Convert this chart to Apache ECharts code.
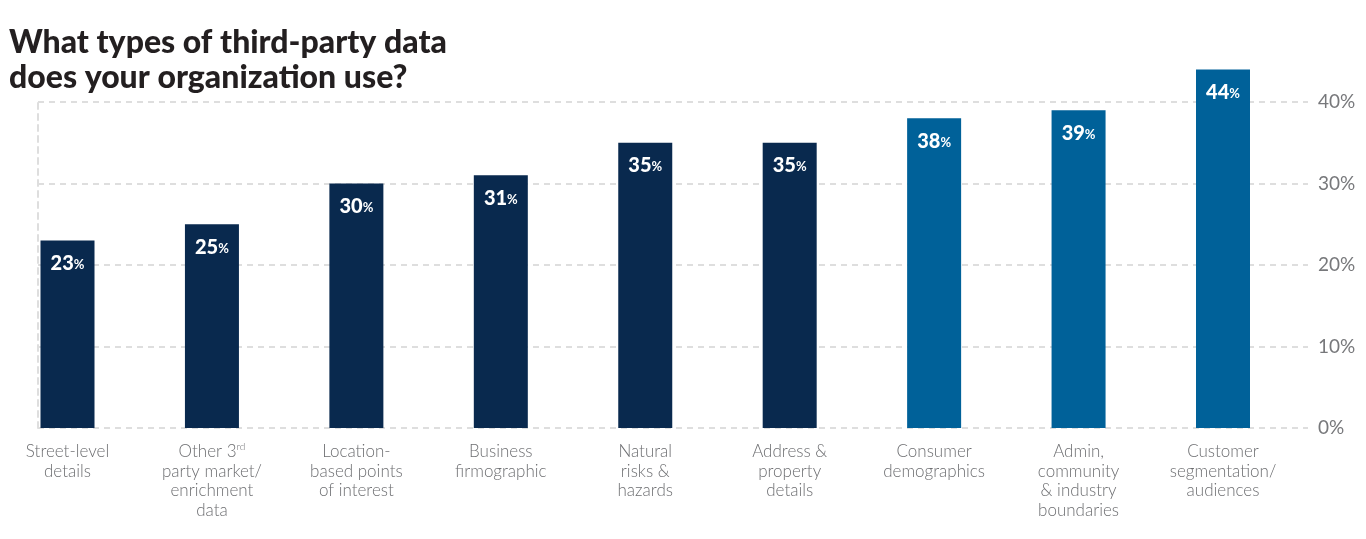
<!DOCTYPE html>
<html>
<head>
<meta charset="utf-8">
<script src="https://cdn.jsdelivr.net/npm/echarts@6/dist/echarts.min.js"></script>
<style>
  html, body { margin: 0; padding: 0; background: #fff; }
  #main { width: 1366px; height: 539px; }
</style>
</head>
<body>
<div id="main"></div>
<script>
const categories = [
  'Street-level\ndetails',
  'Other 3{sup|rd}\nparty market/\nenrichment\ndata',
  'Location-\nbased points\nof interest',
  'Business\nfirmographic',
  'Natural\nrisks &\nhazards',
  'Address &\nproperty\ndetails',
  'Consumer\ndemographics',
  'Admin,\ncommunity\n& industry\nboundaries',
  'Customer\nsegmentation/\naudiences'
]
const values = [23, 25, 30, 31, 35, 35, 38, 39, 44]
const highlighted = [false, false, false, false, false, false, true, true, true]
const yTicks = [0, 10, 20, 30, 40]

const navy = '#09294e'
const blue = '#006199'
const grey = '#6d6e71'
const dash = [6, 5]

const chart = echarts.init(document.getElementById('main'))
chart.setOption({
  animation: false,
  title: {
    text: 'What types of third-party data\ndoes your organization use?',
    left: 9,
    top: 25,
    padding: 0,
    textStyle: {
      fontFamily: 'Lato',
      fontWeight: 900,
      fontSize: 32,
      lineHeight: 35,
      color: '#231f20'
    }
  },
  grid: [
    // bar grid: first/last bar centres sit on the axis ends
    { left: 67.5, right: 143, top: 102, bottom: 111 },
    // gridline grid
    { left: 38, right: 58, top: 102, bottom: 111 }
  ],
  xAxis: [
    {
      type: 'category',
      gridIndex: 0,
      boundaryGap: false,
      data: categories,
      axisLine: { show: false },
      axisTick: { show: false },
      axisLabel: {
        interval: 0,
        margin: 14,
        color: grey,
        fontFamily: 'Lato',
        fontWeight: 300,
        fontSize: 17,
        lineHeight: 19.5,
        rich: {
          sup: { fontSize: 10, verticalAlign: 'top', color: grey, fontFamily: 'Lato', lineHeight: 19.5, padding: [0, 0, 6, 0] }
        }
      }
    },
    { type: 'value', gridIndex: 1, min: 0, max: 1, show: false }
  ],
  yAxis: [
    { type: 'value', gridIndex: 0, min: 0, max: 40, interval: 10, show: false },
    {
      type: 'value',
      gridIndex: 1,
      min: yTicks[0],
      max: yTicks[yTicks.length - 1],
      interval: 10,
      position: 'right',
      axisLine: { show: true, lineStyle: { color: '#dedede', width: 2, type: dash } },
      axisTick: { show: false },
      splitLine: { show: true, lineStyle: { color: '#dedede', width: 2, type: dash } },
      axisLabel: {
        margin: 10,
        formatter: '{value}%',
        color: '#77787b',
        fontFamily: 'Lato',
        fontSize: 19
      }
    }
  ],
  series: [
    {
      type: 'bar',
      xAxisIndex: 0,
      yAxisIndex: 0,
      clip: false,
      barWidth: 54,
      data: values.map((v, i) => ({
        value: v,
        itemStyle: { color: highlighted[i] ? blue : navy }
      })),
      label: {
        show: true,
        position: 'insideTop',
        distance: 13,
        formatter: p => '{v|' + p.value + '}{p|%}',
        rich: {
          v: { color: '#fff', fontFamily: 'Lato', fontWeight: 900, fontSize: 20 },
          p: { color: '#fff', fontFamily: 'Lato', fontWeight: 700, fontSize: 13, padding: [3, 0, 0, 0] }
        }
      }
    }
  ]
})
</script>
</body>
</html>
